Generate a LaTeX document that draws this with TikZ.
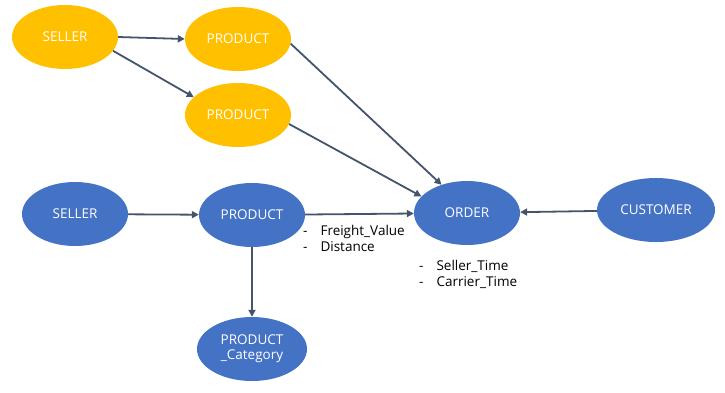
\documentclass[tikz,border=0pt]{standalone}
\usepackage{fontspec}
\setmainfont{Open Sans}
\usetikzlibrary{arrows.meta,shapes.geometric}
\definecolor{ygold}{HTML}{FFC000}
\definecolor{bblue}{HTML}{4472C4}
\definecolor{arr}{HTML}{44546A}
\begin{document}
\begin{tikzpicture}[x=1pt,y=-1pt,
  ent/.style={ellipse,minimum width=106pt,minimum height=64pt,inner sep=0pt,text=white,font=\fontsize{13.5}{15}\selectfont,align=center},
  yent/.style={ent,fill=ygold},
  bent/.style={ent,fill=bblue},
  conn/.style={draw=arr,line width=1.8pt,-{Triangle[length=7pt,width=7pt]}},
  lab/.style={font=\fontsize{13.5}{16}\selectfont,align=left,anchor=north west,inner sep=0pt}
]
\useasboundingbox (0,0) rectangle (725,392);
\node[yent] (s1) at (65,37) {SELLER};
\node[yent] (p1) at (238,39) {PRODUCT};
\node[yent] (p2) at (238,115) {PRODUCT};
\node[bent] (s2) at (75,214) {SELLER};
\node[bent] (p3) at (252,215) {PRODUCT};
\node[bent] (o) at (467,213) {ORDER};
\node[bent,minimum width=118pt] (c) at (656,210) {CUSTOMER};
\node[bent,minimum width=110pt] (pc) at (252,349) {PRODUCT\\\_Category};
\draw[conn] (s1.east) -- (p1.west);
\draw[conn] (s1.-16) -- (p2.158);
\draw[conn] (p1.-5) -- (o.132);
\draw[conn] (p2.-10) -- (o.160);
\draw[conn] (s2) -- (p3);
\draw[conn] (p3) -- (o);
\draw[conn] (c) -- (o);
\draw[conn] (p3) -- (pc);
\node[lab] (l1) at (303,225) {-\hspace{13pt}Freight\_Value\\-\hspace{13pt}Distance};
\node[lab] (l2) at (419,260) {-\hspace{13pt}Seller\_Time\\-\hspace{13pt}Carrier\_Time};
\end{tikzpicture}
\end{document}
